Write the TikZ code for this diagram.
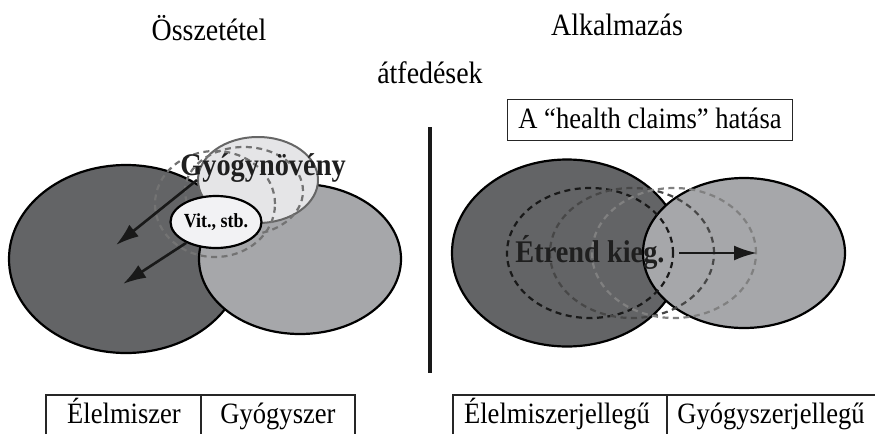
\documentclass[tikz,border=0pt]{standalone}
\usepackage{fontspec}
\setmainfont{Liberation Serif}[FakeStretch=0.9]
\usetikzlibrary{shapes.geometric,arrows.meta}
\definecolor{darkset}{HTML}{636466}
\definecolor{midset}{HTML}{A6A7AA}
\definecolor{lightset}{HTML}{E5E5E7}
\definecolor{whiteset}{HTML}{F2F2F4}
\begin{document}
\begin{tikzpicture}[x=1pt,y=-1pt]
  \tikzstyle{set}=[ellipse,draw=black,line width=2.2pt,inner sep=0pt]
  \tikzstyle{dark set}=[set,fill=darkset]
  \tikzstyle{mid set}=[set,fill=midset]
  \tikzstyle{drift}=[ellipse,draw,line width=2.2pt,dash pattern=on 6pt off 4.5pt,inner sep=0pt]
  \tikzstyle{title}=[anchor=base,font=\fontsize{31}{33}\selectfont]
  \tikzstyle{cell}=[anchor=base,font=\fontsize{29.5}{32}\selectfont]
  \tikzstyle{bold label}=[anchor=base,font=\fontsize{31.5}{33}\selectfont\bfseries,text=black!88]
  \tikzstyle{move}=[draw,line width=2.6pt,-{Latex[length=23pt,width=15pt]},black!90]
  \useasboundingbox (0,0) rectangle (875,434);

  % titles
  \node[title] (comp) at (209,40) {Összetétel};
  \node[title] (use) at (617,35) {Alkalmazás};
  \node[title] (overlap) at (430,83) {átfedések};

  % left: composition
  \node[dark set, minimum width=234pt, minimum height=188pt] (food) at (126,259) {};
  \node[mid set, minimum width=202pt, minimum height=150pt] (drug) at (300,259) {};
  \node[set, draw=black!60, line width=2pt, fill=lightset, minimum width=120pt, minimum height=86pt] (herb) at (258,180) {};
  \node[drift, draw=black!55, minimum width=120pt, minimum height=106pt] (h1) at (215,204) {};
  \node[drift, draw=black!55, minimum width=118pt, minimum height=88pt] (h2) at (244,191) {};
  \node[set, fill=whiteset, minimum width=72pt, minimum height=52pt,
        font=\fontsize{20}{22}\selectfont\bfseries] (vit) at (216,222) {Vit., stb.};
  \node[bold label] (herbname) at (263,175) {Gyógynövény};
  \coordinate (a1) at (116,245);
  \coordinate (a2) at (123,284);
  \draw[move] (herb.west) -- (a1);
  \draw[move] (vit.215) -- (a2);

  % divider
  \coordinate (d1) at (430,127);
  \coordinate (d2) at (430,373);
  \draw[line width=4pt,black!90] (d1) -- (d2);

  % right: application
  \node[draw=black!85,line width=1.2pt,minimum width=285pt,minimum height=41pt,
        inner sep=0pt] (claims) at (650,120) {};
  \node[cell] (claimstext) at (claims.center |- 0,128) {A “health claims” hatása};
  \node[dark set, minimum width=230pt, minimum height=187pt] (foodlike) at (567,253) {};
  \node[mid set, minimum width=202pt, minimum height=150pt] (druglike) at (744,253) {};
  \node[drift, draw=black!90, minimum width=166pt, minimum height=130pt] (s1) at (590,253) {};
  \node[drift, draw=black!72, minimum width=164pt, minimum height=130pt] (s2) at (632,253) {};
  \node[drift, draw=black!50, minimum width=164pt, minimum height=130pt] (s3) at (674,253) {};
  \node[bold label] (suppl) at (590,262) {Étrend kieg.};
  \coordinate (a0) at (679,253);
  \coordinate (a3) at (757,253);
  \draw[move] (a0) -- (a3);

  % bottom tables
  \draw[line width=1.2pt,black!85] (46,434) |- (355,395) -- (355,434);
  \draw[line width=1.2pt,black!85] (201,395) -- (201,434);
  \draw[line width=1.2pt,black!85] (453,434) |- (875,395);
  \draw[line width=1.2pt,black!85] (667,395) -- (667,434);
  \node[cell] (c1) at (124,423) {Élelmiszer};
  \node[cell] (c2) at (278,423) {Gyógyszer};
  \node[cell] (c3) at (557,423) {Élelmiszerjellegű};
  \node[cell] (c4) at (771,423) {Gyógyszerjellegű};
\end{tikzpicture}
\end{document}
